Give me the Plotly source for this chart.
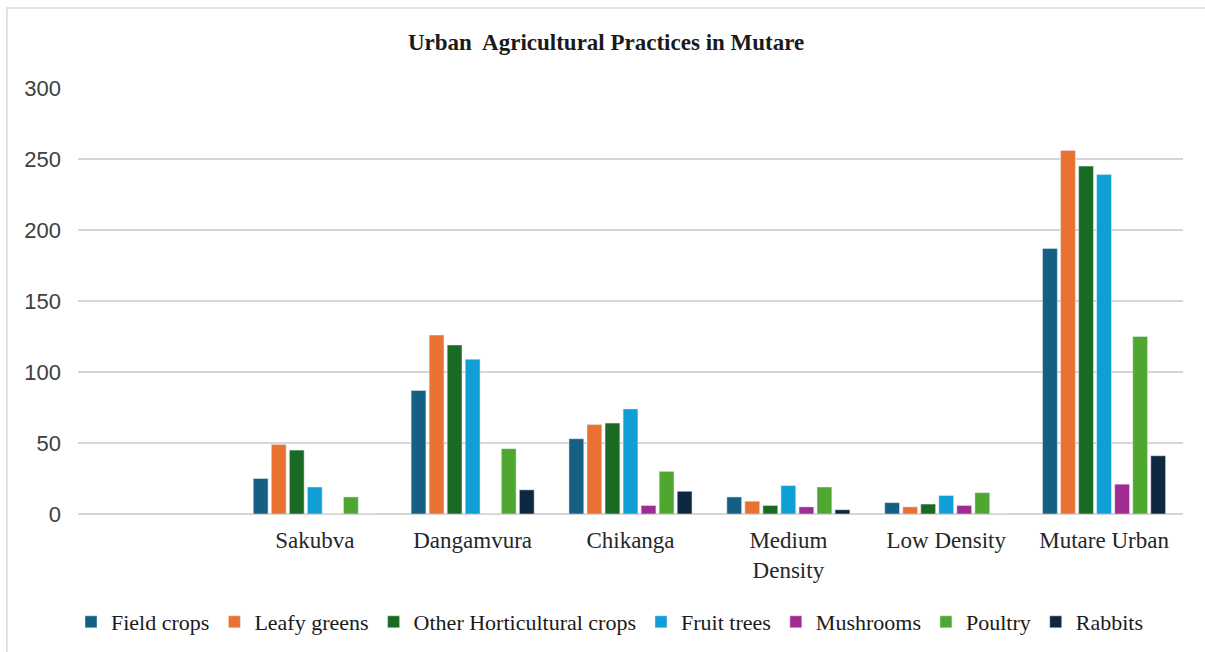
import plotly.graph_objects as go

# Suburbs (first slot is an unlabeled spacer category)
categories = [" ", "Sakubva", "Dangamvura", "Chikanga", "Medium<br>Density", "Low Density", "Mutare Urban"]

field_crops = [None, 25, 87, 53, 12, 8, 187]
leafy_greens = [None, 49, 126, 63, 9, 5, 256]
other_horticultural = [None, 45, 119, 64, 6, 7, 245]
fruit_trees = [None, 19, 109, 74, 20, 13, 239]
mushrooms = [None, 0, 0, 6, 5, 6, 21]
poultry = [None, 12, 46, 30, 19, 15, 125]
rabbits = [None, 0, 17, 16, 3, 0, 41]

series = [
    ("Field crops", field_crops, "#156082"),
    ("Leafy greens", leafy_greens, "#E97132"),
    ("Other Horticultural crops", other_horticultural, "#196B24"),
    ("Fruit trees", fruit_trees, "#0F9ED5"),
    ("Mushrooms", mushrooms, "#A02B93"),
    ("Poultry", poultry, "#4EA72E"),
    ("Rabbits", rabbits, "#0E2841"),
]

serif = "Liberation Serif, Times New Roman, serif"
sans = "Liberation Sans, Arial, sans-serif"

fig = go.Figure()
for name, vals, color in series:
    fig.add_trace(go.Bar(x=categories, y=vals, name=name, marker_color=color))

fig.update_layout(
    width=1205,
    height=652,
    barmode="group",
    bargap=0.2,
    bargroupgap=0.18,
    plot_bgcolor="white",
    paper_bgcolor="white",
    margin=dict(l=78, r=22, t=88, b=138, autoexpand=False),
    title=dict(
        text="<b>Urban\u00a0 Agricultural Practices in Mutare</b>",
        font=dict(family=serif, size=23, color="#1a1a1a"),
        x=0.503, xanchor="center",
        y=1 - 42 / 652, yanchor="middle",
    ),
    legend=dict(
        orientation="h",
        x=0.481, xanchor="center",
        y=-0.2535, yanchor="middle",
        font=dict(family=serif, size=22, color="#1a1a1a"),
        itemwidth=30,
        traceorder="normal",
    ),
    showlegend=True,
)

fig.update_xaxes(
    type="category",
    categoryorder="array",
    categoryarray=categories,
    showgrid=False,
    showline=False,
    ticks="",
    tickangle=0,
    tickfont=dict(family=serif, size=23, color="#262626"),
    ticklabelstandoff=10,
)

fig.update_yaxes(
    range=[0, 300],
    dtick=50,
    showgrid=True,
    gridcolor="#d6d6d6",
    gridwidth=1.5,
    zeroline=True,
    zerolinecolor="#d6d6d6",
    zerolinewidth=1.5,
    showline=False,
    ticks="",
    tickfont=dict(family=sans, size=22, color="#404040"),
    ticklabelstandoff=16,
)

# Chart frame border
fig.add_shape(
    type="rect", xref="paper", yref="paper",
    x0=-0.0643, x1=1.05, y0=-0.4, y1=1.1878,
    line=dict(color="#d9d9d9", width=1.5),
    fillcolor="rgba(0,0,0,0)",
    layer="below",
)

fig.write_html("out.html")
